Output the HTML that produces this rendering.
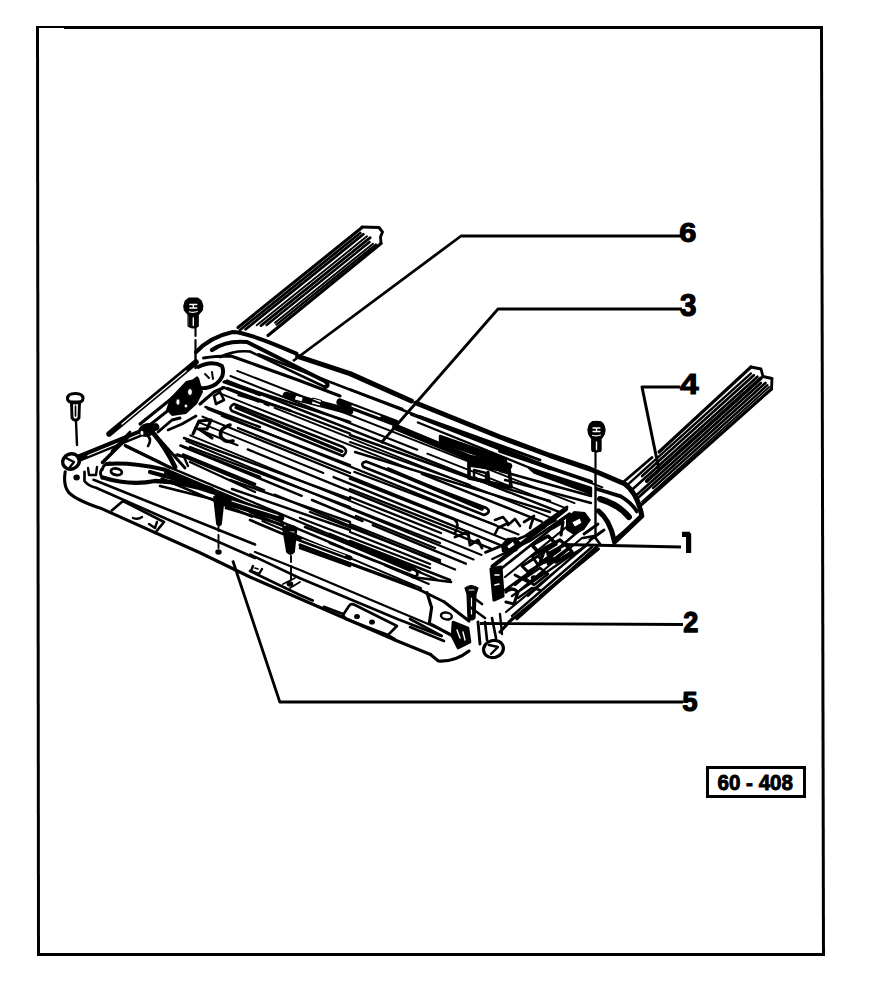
<!DOCTYPE html>
<html><head><meta charset="utf-8">
<style>
html,body{margin:0;padding:0;background:#fff;width:880px;height:1006px;overflow:hidden}
svg{display:block}
.t{font-family:"Liberation Sans",sans-serif;font-weight:bold;fill:#000;stroke:#000;stroke-width:1.1;stroke-linejoin:round}
</style></head><body>
<svg width="880" height="1006" viewBox="0 0 880 1006">
<rect x="0" y="0" width="880" height="1006" fill="#fff"/>
<!-- border -->
<g fill="#000">
<rect x="36" y="26" width="787" height="2"/>
<rect x="64" y="26" width="759" height="3"/>
<polygon points="36,26 39,26 40,956 37,956"/>
<polygon points="820,26 823,26 825,956 822,956"/>
<rect x="37" y="953" width="788" height="3"/>
</g>
<g fill="none" stroke="#000" stroke-linecap="round" stroke-linejoin="round">
<polyline points="238.0,327.5 362.0,227.5" stroke-width="3.12"/>
<polyline points="362.0,227.0 379.0,227.5 382.5,232.0 380.5,237.0 381.0,243.5" stroke-width="2.88"/>
<polyline points="240.0,330.0 360.3,233.0" stroke-width="2.76"/>
<polyline points="245.6,329.3 363.4,234.3" stroke-width="2.76"/>
<polyline points="256.7,325.3 367.0,236.3" stroke-width="1.92"/>
<polyline points="261.0,325.6 370.2,237.6" stroke-width="2.76"/>
<polyline points="266.6,325.0 369.6,242.0" stroke-width="2.40"/>
<polyline points="275.0,322.7 373.0,243.7" stroke-width="1.92"/>
<polyline points="276.6,324.6 375.8,244.6" stroke-width="2.40"/>
<polyline points="381.0,243.5 268.0,335.5" stroke-width="3.12"/>
<polyline points="624.0,481.5 652.0,457.5" stroke-width="2.88"/>
<polyline points="659.0,452.0 751.0,367.0" stroke-width="3.12"/>
<polyline points="751.0,367.0 761.0,369.0 763.0,376.5 772.0,378.5 771.5,389.0" stroke-width="2.88"/>
<polyline points="627.2,485.1 751.0,373.4" stroke-width="2.40"/>
<polyline points="642.1,476.0 753.8,375.2" stroke-width="2.64"/>
<polyline points="631.7,490.0 757.4,376.7" stroke-width="2.64"/>
<polyline points="646.7,481.2 761.0,378.1" stroke-width="3.60"/>
<polyline points="636.4,495.2 760.8,383.0" stroke-width="2.64"/>
<polyline points="638.4,497.5 765.4,383.0" stroke-width="2.64"/>
<polyline points="653.1,488.2 767.4,385.2" stroke-width="2.40"/>
<polyline points="642.1,501.6 769.1,387.1" stroke-width="1.92"/>
<polyline points="771.5,389.0 640.5,505.5" stroke-width="3.12"/>
<path d="M196,352 Q210,337 232.7,332 Q247,332 296.4,353.6" stroke-width="4.08"/>
<path d="M297.7,356.4 L350,373.6 L411.4,401 M416,403 L500,437 L550,455.5 L590,469 L625,484 Q638,494 641.8,516 L614.5,542" stroke-width="5.04"/>
<polyline points="598.6,549.0 512.3,619.3" stroke-width="2.88"/>
<path d="M512,619 L500,632 M469,651 Q455,662 438.4,661 L430.5,654.5" stroke-width="3.12"/>
<path d="M430.5,654.5 L395.5,640.2 L250,577 L200.5,553 L100.5,508.2 Q76,500 68.6,492.3 Q63,485 65.2,471.8" stroke-width="3.12"/>
<polyline points="195.5,327.0 195.5,336.0" stroke-width="2.16"/>
<polyline points="195.5,340.0 195.5,350.0" stroke-width="2.16"/>
<polyline points="195.5,353.0 195.5,368.0" stroke-width="2.40"/>
<path d="M212,350 Q226,340 247,342 L325.5,381.5 Q330,386 325,387" stroke-width="4.08"/>
<path d="M220,357 Q234,350 250,351.5 L325,387" stroke-width="2.64"/>
<path d="M203.6,358 Q215,356 231,356 L298,380 L340,396" stroke-width="3.12"/>
<polyline points="286.0,395.0 350.0,411.5" stroke-width="6.60"/>
<rect x="295" y="396" width="8" height="5" fill="#fff" transform="rotate(15 299 398)"/>
<rect x="312" y="399" width="9" height="6" fill="#fff" transform="rotate(15 316 402)"/>
<polyline points="225.0,381.4 350.0,422.0" stroke-width="2.64"/>
<polyline points="227.0,388.0 291.0,411.0" stroke-width="2.40"/>
<polyline points="238.6,395.0 286.0,409.0 350.0,433.6" stroke-width="2.40"/>
<path d="M234,404 L343,447 Q349,451 343,456 L232,411 Q228,407 234,404 Z" stroke-width="2.64"/>
<polyline points="236.0,407.5 342.0,451.5" stroke-width="3.12"/>
<polyline points="222.0,416.0 350.0,465.0" stroke-width="2.40"/>
<polyline points="238.0,428.0 350.0,473.0" stroke-width="2.40"/>
<polyline points="184.0,438.0 350.0,499.0" stroke-width="2.40"/>
<polyline points="190.0,447.0 350.0,507.0" stroke-width="2.40"/>
<path d="M193,434 L199,421 L211,420 L207,429 L199,429 L212,438" stroke-width="3.12"/>
<path d="M230,425 Q218,429 221,437 Q225,443 233,441" stroke-width="3.60"/>
<polyline points="350.0,389.5 402.3,409.0" stroke-width="2.64"/>
<polyline points="340.0,402.0 395.5,423.0" stroke-width="7.20"/>
<line x1="352" y1="406" x2="380" y2="416.5" stroke="#fff" stroke-width="1.4"/>
<polyline points="411.4,414.5 550.0,469.0" stroke-width="2.64"/>
<polyline points="418.0,422.5 550.0,476.0" stroke-width="2.40"/>
<polyline points="395.5,427.0 470.0,458.0 509.0,466.0" stroke-width="6.60"/>
<path d="M469,462 L509,468 L511,487 L469,478 Z" stroke-width="3.60"/>
<polyline points="469.0,465.0 509.0,471.0" stroke-width="3.60"/>
<path d="M474,470 L486,473 L486,480 Q480,481 474,477 Z" stroke-width="2.40"/>
<polyline points="488.0,472.0 489.0,484.0" stroke-width="3.12"/>
<polyline points="350.0,435.0 470.0,478.0 550.0,501.0" stroke-width="2.40"/>
<polyline points="350.0,442.0 470.0,485.0" stroke-width="2.16"/>
<polyline points="355.0,452.0 550.0,512.0" stroke-width="2.40"/>
<path d="M366,461.6 L486.4,508 Q492,512 484,515 L363.6,467 Q360,463 366,461.6 Z" stroke-width="2.64"/>
<polyline points="388.0,469.0 482.0,509.0" stroke-width="3.60"/>
<polyline points="354.5,472.0 495.5,525.0" stroke-width="2.40"/>
<path d="M350,478.6 L454.5,519.5 Q460,524 455,533" stroke-width="2.64"/>
<polyline points="350.0,489.0 468.0,535.0" stroke-width="2.40"/>
<polyline points="350.0,497.0 441.0,533.0" stroke-width="2.40"/>
<polyline points="350.0,508.0 440.0,543.0" stroke-width="2.40"/>
<polyline points="356.0,516.0 435.0,548.0" stroke-width="2.40"/>
<polyline points="350.0,524.0 440.0,560.0" stroke-width="2.40"/>
<polyline points="350.0,532.0 430.0,564.0" stroke-width="2.40"/>
<polyline points="350.0,541.0 450.0,580.0" stroke-width="2.64"/>
<path d="M495,520 L503,517 L508,523 L498,528 L495,534" stroke-width="2.64"/>
<path d="M508,525 L515,519 L520,526" stroke-width="2.64"/>
<path d="M524,522 L534,516 L530,528" stroke-width="2.64"/>
<path d="M455,537 L468,532 L470,545 L478,540 L482,548" stroke-width="2.88"/>
<path d="M84.5,471.8 L84.5,481 Q88,486 96,487.7 L255,558" stroke-width="2.64"/>
<polyline points="93.6,479.8 255.0,544.5" stroke-width="2.64"/>
<path d="M107,464 Q130,462 164,469.5 L255,508" stroke-width="4.08"/>
<path d="M102.7,477.5 Q130,486 155,481 Q185,482 212,492" stroke-width="4.32"/>
<polyline points="150.0,472.0 212.0,489.0" stroke-width="4.20"/>
<polyline points="160.0,486.0 212.0,499.0" stroke-width="2.64"/>
<path d="M102,470 Q104,463 110,463 M102,478 Q99,472 102,469" stroke-width="2.88"/>
<ellipse cx="116.4" cy="471.8" rx="5.5" ry="3.2" stroke-width="2.8" transform="rotate(10 116.4 471.8)"/>
<path d="M111.8,510.5 L123,501 L164,522 L155,533" stroke-width="2.64"/>
<path d="M133,518 Q138,520 142,517 M149,524 L155,528 L157,522" stroke-width="2.40"/>
<path d="M214,497 Q219,493 224,497 L221,524 Q219,527 217,524 Z" stroke-width="1.80" fill="#000"/>
<polyline points="218.5,527.0 218.5,531.0" stroke-width="1.92"/>
<polyline points="218.5,535.0 218.5,548.0" stroke-width="1.92"/>
<ellipse cx="218.5" cy="552" rx="2.5" ry="2" stroke-width="1.5" fill="#000" transform="rotate(0 218.5 552)"/>
<ellipse cx="71" cy="461.5" rx="8.5" ry="7.5" stroke-width="3.5" transform="rotate(-20 71 461.5)"/>
<polyline points="66.0,458.0 74.0,462.0 70.0,467.0" stroke-width="2.40"/>
<ellipse cx="76.6" cy="477.5" rx="2.5" ry="2.2" stroke-width="1.5" fill="#000" transform="rotate(0 76.6 477.5)"/>
<path d="M88,468 L89,475 L96,475 L97,467" stroke-width="2.40"/>
<path d="M67.5,398.5 Q67.5,393.5 75.3,393.5 Q83,393.5 83,398.5 Q83,402.5 75.3,403 Q67.5,402.5 67.5,398.5 Z" stroke-width="3.12"/>
<path d="M71.5,402 L79.5,402 L79,418 Q75.5,422.5 72,418 Z" stroke-width="2.88"/>
<polyline points="75.5,406.0 75.5,416.0" stroke-width="1.68"/>
<polyline points="76.0,421.0 77.0,445.0" stroke-width="2.40"/>
<polyline points="109.0,434.0 196.0,362.0" stroke-width="5.52"/>
<line x1="122" y1="424" x2="186" y2="371" stroke="#fff" stroke-width="1.3"/>
<polyline points="140.0,424.0 197.0,378.0" stroke-width="3.12"/>
<polyline points="146.0,428.0 175.0,405.0" stroke-width="2.88"/>
<polygon points="170.0,398.0 186.0,381.0 199.0,378.0 203.0,392.0 197.0,404.0 186.0,414.0 172.0,416.0 166.0,410.0" fill="#000" stroke="none"/>
<ellipse cx="178" cy="402" rx="2.2" ry="3.2" fill="#fff"/>
<ellipse cx="190" cy="392" rx="2.5" ry="3.5" fill="#fff"/>
<ellipse cx="186" cy="406" rx="2" ry="2" fill="#fff"/>
<path d="M198,367 Q212,360 222,366 Q226,376 216,384 Q208,389 200,388" stroke-width="3.84"/>
<path d="M205,374 L209,378 M212,372 L213,379" stroke-width="1.92"/>
<path d="M200,404 L214,392 L224,387.5" stroke-width="3.12"/>
<path d="M214,396 L220,392 L224,400 L216,404 Z" stroke-width="2.64"/>
<path d="M158,432 L172,420 L180,418" stroke-width="2.88"/>
<path d="M168,430 L182,424 L196,416" stroke-width="2.64"/>
<polyline points="80.5,457.5 155.5,427.0" stroke-width="7.80"/>
<line x1="88" y1="455.5" x2="145" y2="432" stroke="#fff" stroke-width="1.3"/>
<ellipse cx="147" cy="430" rx="8" ry="6" stroke-width="1.5" fill="#000" transform="rotate(-15 147 430)"/>
<ellipse cx="142" cy="433" rx="2.2" ry="2.6" fill="#fff"/>
<path d="M148,446 Q152,440 148,436" stroke-width="2.64"/>
<path d="M154,434 Q166,448 175,467" stroke-width="4.80"/>
<polyline points="126.0,446.0 170.0,467.5" stroke-width="3.12"/>
<polyline points="127.5,437.5 102.5,462.5" stroke-width="3.60"/>
<polyline points="160.0,440.0 185.0,468.0" stroke-width="2.88"/>
<path d="M176,455 L184,457 L188,466" stroke-width="2.40"/>
<polyline points="223.6,382.0 260.0,395.0" stroke-width="2.40"/>
<polyline points="205.5,407.0 260.0,427.0" stroke-width="2.40"/>
<polyline points="180.5,445.5 260.0,477.0" stroke-width="2.64"/>
<polyline points="183.0,454.5 255.0,484.0" stroke-width="2.64"/>
<polyline points="190.0,462.0 255.0,492.0" stroke-width="2.40"/>
<polyline points="312.7,600.5 300.0,595.0 250.0,571.0" stroke-width="2.64"/>
<path d="M323.9,606.8 L343,614" stroke-width="2.64"/>
<polyline points="250.0,554.5 300.0,578.2 398.6,619.5 440.0,635.5" stroke-width="2.64"/>
<polyline points="255.0,552.0 300.0,570.0 440.0,629.0" stroke-width="2.40"/>
<polyline points="300.0,544.8 420.0,590.0" stroke-width="2.88"/>
<path d="M427,592.7 L431.6,607.5 L429.3,623.4 L453,636" stroke-width="3.12"/>
<path d="M444,601.8 L469,621" stroke-width="3.12"/>
<path d="M420,590 L444,601.8" stroke-width="2.88"/>
<ellipse cx="446.4" cy="616" rx="5.5" ry="3.4" stroke-width="2.4" transform="rotate(10 446.4 616)"/>
<path d="M453,622 L468,628 L470,642 L458,648 L452,636 Z" stroke-width="2.64" fill="#000"/>
<path d="M457,630 L460,638 M463,632 L465,640" stroke="#fff" stroke-width="1.4"/>
<path d="M465,588 Q471,583 478,588 L476,594 L475,618 Q471.5,622 468,618 L467,594 Z" stroke-width="1.20" fill="#000"/>
<path d="M469,590 L474,590 M471.5,598 L471.5,614" stroke="#fff" stroke-width="1.2"/>
<polyline points="410.0,619.0 441.8,636.0" stroke-width="2.64"/>
<polyline points="410.0,627.0 444.0,641.0" stroke-width="2.64"/>
<polyline points="412.0,577.0 451.0,582.0" stroke-width="2.64"/>
<path d="M343,615 L349,606 Q351,603 355,605 L397,626 L388,635 L346,619 Z" stroke-width="2.64"/>
<ellipse cx="357" cy="616.5" rx="2.2" ry="1.8" stroke-width="1.5" fill="#000" transform="rotate(0 357 616.5)"/>
<ellipse cx="372" cy="622" rx="2.2" ry="1.8" stroke-width="1.5" fill="#000" transform="rotate(0 372 622)"/>
<polyline points="388.0,635.0 395.0,639.0" stroke-width="2.40"/>
<path d="M283,528 Q290,523 296.6,528 L294,552 Q290.5,556 287,552 Z" stroke-width="1.80" fill="#000"/>
<line x1="288" y1="532" x2="294" y2="532" stroke="#fff" stroke-width="1.2"/>
<polyline points="291.0,556.0 291.0,562.0" stroke-width="1.92"/>
<polyline points="291.0,566.0 291.0,580.0" stroke-width="1.92"/>
<ellipse cx="290" cy="584" rx="2.6" ry="2" stroke-width="1.5" fill="#000" transform="rotate(0 290 584)"/>
<polyline points="283.0,584.0 295.0,578.0" stroke-width="1.80"/>
<polyline points="290.0,588.0 300.0,582.0" stroke-width="1.80"/>
<polyline points="300.0,545.5 413.6,586.4" stroke-width="2.88"/>
<path d="M329.5,534 L413,568 Q420,572 416,577 L330,543" stroke-width="2.88"/>
<polyline points="340.0,540.0 410.0,570.0" stroke-width="3.60"/>
<polyline points="305.0,527.0 420.0,572.0" stroke-width="2.64"/>
<polyline points="300.0,518.0 430.0,568.0" stroke-width="2.40"/>
<polyline points="310.0,512.0 440.0,562.0" stroke-width="2.40"/>
<polyline points="250.0,512.0 283.0,526.0" stroke-width="2.64"/>
<polyline points="250.0,520.0 283.0,534.0" stroke-width="2.64"/>
<polyline points="298.0,537.0 325.0,548.0" stroke-width="2.40"/>
<path d="M588.5,431 Q588,421.5 596.5,421.5 Q605,421.5 604.5,431 Q604,439 596.5,440 Q589,439 588.5,431 Z" stroke-width="1.44" fill="#000"/>
<path d="M592,428 L601,428 M593,433 L600,433" stroke="#fff" stroke-width="1.4"/>
<path d="M592.5,440 L600.5,440 L600.5,451 L592.5,451 Z" stroke-width="1.80" fill="#000"/>
<polyline points="595.5,452.0 595.5,468.0" stroke-width="2.16"/>
<polyline points="595.5,471.0 595.5,538.0" stroke-width="2.40"/>
<path d="M500,451 L591,481.8 M597,489 L620.8,496.3 Q632,503 636.7,511.4" stroke-width="3.84"/>
<path d="M529,468 L591,488 L591,494 L535,473 Z" stroke-width="2.40" fill="#000"/>
<polyline points="500.0,471.0 591.0,496.0" stroke-width="2.64"/>
<polyline points="505.0,480.0 591.0,503.0" stroke-width="2.40"/>
<path d="M600,499 Q618,504 629,517" stroke-width="6.00"/>
<path d="M598.5,511 Q610,520 614,540" stroke-width="5.04"/>
<polyline points="640.0,518.0 613.0,540.0" stroke-width="2.16"/>
<polyline points="628.0,484.0 612.0,498.0" stroke-width="0.00"/>
<polyline points="567.0,507.0 525.5,536.0 485.5,552.3" stroke-width="2.88"/>
<polyline points="569.5,513.6 530.0,541.0 492.3,559.0" stroke-width="2.40"/>
<polyline points="596.8,547.0 517.0,618.6" stroke-width="3.36"/>
<polyline points="592.0,547.0 512.0,616.0" stroke-width="2.40"/>
<polyline points="586.0,546.0 506.0,612.0" stroke-width="2.16"/>
<polyline points="566.0,509.0 492.7,566.4" stroke-width="4.32"/>
<polyline points="570.0,514.0 500.7,569.0" stroke-width="2.64"/>
<polyline points="575.0,520.0 505.0,577.0" stroke-width="2.16"/>
<polyline points="580.0,530.0 515.0,585.0" stroke-width="2.40"/>
<polygon points="501.0,545.0 507.0,538.0 516.0,537.0 521.0,543.0 517.0,551.0 508.0,554.0 502.0,552.0" fill="#000" stroke="none"/>
<path d="M507,546 L513,541 L515,545 L509,549 Z" fill="#fff"/>
<path d="M545,548 L560,540 L569,548 L553,560 L540,563 Z" stroke-width="3.36"/>
<path d="M532,556 L545,548 L550,556 L538,565 Z" stroke-width="2.88"/>
<polygon points="566.0,518.0 574.0,511.0 585.0,512.0 591.0,520.0 584.0,530.0 574.0,535.0 566.0,530.0" fill="#000" stroke="none"/>
<path d="M572,522 L580,518 L582,523 L575,527 Z" fill="#fff"/>
<polyline points="584.0,534.0 598.0,524.0" stroke-width="2.88"/>
<polyline points="590.0,540.0 604.0,530.0" stroke-width="2.88"/>
<path d="M553,528 L563,522 L561,535" stroke-width="3.12"/>
<path d="M525,578 L540,568 L548,574 L534,585 Z" stroke-width="2.64"/>
<ellipse cx="534" cy="578" rx="2.5" ry="2" stroke-width="1.5" fill="#000" transform="rotate(0 534 578)"/>
<path d="M518,598 L532,588 L540,590" stroke-width="2.40"/>
<path d="M548,564 L570,556 L580,550" stroke-width="2.64"/>
<path d="M583,538 L594,536 L600,544" stroke-width="2.64"/>
<path d="M491,569 L501,567 L503,596 L494,600 Z" stroke-width="3.12" fill="#000"/>
<path d="M495,575 L499,575 M495,585 L499,584" stroke="#fff" stroke-width="1.6"/>
<path d="M506,592 Q512,586 518,592 L514,604 L506,602" stroke-width="3.12"/>
<polyline points="478.0,622.0 480.0,644.0" stroke-width="2.88"/>
<polyline points="485.0,622.0 487.0,640.0" stroke-width="2.64"/>
<polyline points="492.0,618.0 496.0,638.0" stroke-width="2.64"/>
<polyline points="500.0,614.0 502.0,634.0" stroke-width="2.40"/>
<ellipse cx="493.5" cy="649" rx="10" ry="8.5" stroke-width="3.2" transform="rotate(-15 493.5 649)"/>
<path d="M489,645 L498,647 L491,654" stroke-width="2.40"/>
<polyline points="470.0,607.0 485.0,618.0" stroke-width="2.64"/>
<polyline points="474.0,598.0 482.0,604.0" stroke-width="2.64"/>
<polyline points="258.5,354.3 560.4,471.1" stroke-width="2.52"/>
<polyline points="570.6,475.0 602.4,487.3" stroke-width="1.92"/>
<polyline points="237.2,370.8 574.5,503.1" stroke-width="1.92"/>
<polyline points="230.5,376.1 417.2,449.7" stroke-width="2.16"/>
<polyline points="427.3,453.7 565.6,508.2" stroke-width="1.92"/>
<polyline points="227.0,380.6 559.0,511.9" stroke-width="2.52"/>
<polyline points="222.5,387.2 258.5,401.5" stroke-width="2.52"/>
<polyline points="268.7,405.6 264.4,403.9" stroke-width="1.92"/>
<polyline points="274.6,407.9 549.5,517.1" stroke-width="1.92"/>
<polyline points="218.7,392.8 411.7,469.7" stroke-width="1.92"/>
<polyline points="421.9,473.8 541.7,521.6" stroke-width="2.52"/>
<polyline points="207.7,409.1 518.5,534.5" stroke-width="2.16"/>
<polyline points="202.6,416.7 507.8,540.4" stroke-width="2.16"/>
<polyline points="198.9,422.3 323.4,473.0" stroke-width="1.92"/>
<polyline points="333.6,477.1 499.9,544.8" stroke-width="2.40"/>
<polyline points="195.1,427.9 237.5,445.2" stroke-width="2.16"/>
<polyline points="247.7,449.4 492.0,549.2" stroke-width="2.40"/>
<polyline points="190.2,435.3 481.6,555.0" stroke-width="1.92"/>
<polyline points="186.3,441.1 473.5,559.5" stroke-width="2.16"/>
<polyline points="182.7,446.6 301.7,495.8" stroke-width="2.40"/>
<polyline points="312.0,500.0 362.5,521.0" stroke-width="2.52"/>
<polyline points="372.8,525.2 465.8,563.7" stroke-width="2.52"/>
<polyline points="177.6,454.2 264.2,490.2" stroke-width="2.16"/>
<polyline points="274.5,494.5 455.1,569.6" stroke-width="2.16"/>
<polyline points="169.1,467.1 437.0,579.5" stroke-width="2.40"/>
<polyline points="165.2,473.0 342.6,547.7" stroke-width="2.40"/>
<polyline points="352.9,552.0 374.8,561.2" stroke-width="1.92"/>
<polyline points="385.1,565.5 428.9,584.0" stroke-width="1.92"/>
<polyline points="161.6,478.5 213.6,500.4" stroke-width="2.52"/>
<polyline points="223.8,504.8 252.0,516.7" stroke-width="2.52"/>
<polyline points="262.3,521.0 421.2,588.1" stroke-width="1.92"/>
<path d="M189.025,298 L197.57500000000002,298 L201.3,301 L202.8,306 L202.3,310 L197.57500000000002,315.5 L189.025,315.5 L184.3,310 L183.8,306 L185.3,301 Z" stroke-width="1.20" fill="#000"/>
<path d="M189.8,304.5 L196.8,304.5 M189.8,308 L196.8,308 M193.3,304.5 L193.3,308" stroke="#fff" stroke-width="1.3"/>
<path d="M189.3,311.8 Q193.3,313 197.3,311.6" stroke="#fff" stroke-width="1.1"/>
<path d="M188.3,314.5 L198.3,314.5 L198.3,326.5 L194.8,328.0 L191.8,328.0 L188.3,326.5 Z" stroke-width="0.96" fill="#000"/>
<line x1="193.3" y1="318.0" x2="193.3" y2="325.5" stroke="#fff" stroke-width="1.4"/>
<path d="M592.675,421.5 L600.325,421.5 L603.5,424.5 L605.0,429.5 L604.5,433.5 L600.325,439.5 L592.675,439.5 L588.5,433.5 L588.0,429.5 L589.5,424.5 Z" stroke-width="1.20" fill="#000"/>
<path d="M593.0,428.0 L600.0,428.0 M593.0,431.5 L600.0,431.5 M596.5,428.0 L596.5,431.5" stroke="#fff" stroke-width="1.3"/>
<path d="M592.5,435.3 Q596.5,436.5 600.5,435.1" stroke="#fff" stroke-width="1.1"/>
<path d="M592.0,438.5 L601.0,438.5 L601.0,450.5 L598.0,452.0 L595.0,452.0 L592.0,450.5 Z" stroke-width="0.96" fill="#000"/>
<line x1="596.5" y1="442.0" x2="596.5" y2="449.5" stroke="#fff" stroke-width="1.4"/>
<polyline points="582.0,538.0 520.0,590.0" stroke-width="2.16"/>
<polyline points="590.0,541.0 528.0,596.0" stroke-width="2.16"/>
<polyline points="540.0,596.0 565.0,575.0" stroke-width="2.40"/>
<path d="M226,497 L281,514 Q286,518 281,521 L224,504 Q220,500 226,497 Z" stroke-width="1.80" fill="#000"/>
<line x1="232" y1="501" x2="278" y2="515.5" stroke="#fff" stroke-width="1.2"/>
<polyline points="226.0,508.0 283.0,525.0" stroke-width="2.64"/>
<polyline points="296.0,538.0 350.0,558.0" stroke-width="4.80"/>
<line x1="302" y1="539.5" x2="345" y2="555.5" stroke="#fff" stroke-width="1.1"/>
<polyline points="300.0,548.0 350.0,566.0" stroke-width="2.64"/>
<polyline points="232.0,489.0 350.0,530.0" stroke-width="2.40"/>
<polyline points="230.0,480.0 350.0,522.0" stroke-width="2.40"/>
<path d="M253,566 L251,571 L259,574 L262,569" stroke-width="2.40"/>
<path d="M255,568 L258,569" stroke-width="1.68"/>
<polyline points="125.0,445.5 160.0,462.5" stroke-width="2.88"/>
<polyline points="112.0,451.0 130.0,432.0" stroke-width="2.64"/>
<path d="M440,436 L506,459 L506,465 L440,442 Z" stroke-width="2.40" fill="#000"/>
<polyline points="420.0,416.5 540.0,460.0" stroke-width="2.88"/>
<path d="M532,545 L548,536 L556,544 L540,554 Z" stroke-width="3.60"/>
<path d="M548,554 L566,544 L572,552 L556,562 Z" stroke-width="3.60"/>
<path d="M522,566 L538,556 L544,562 L528,572 Z" stroke-width="3.12"/>
<polyline points="505.0,590.0 560.0,550.0" stroke-width="2.64"/>
<polyline points="512.0,596.0 570.0,556.0" stroke-width="2.40"/>
<path d="M515,575 L530,583 L545,572" stroke-width="2.88"/>
<polyline points="540.0,528.0 555.0,520.0" stroke-width="3.60"/>
<polyline points="528.0,536.0 545.0,527.0" stroke-width="2.64"/>
</g>
<!-- leaders -->
<g fill="none" stroke="#000" stroke-width="2.8" stroke-linecap="butt" stroke-linejoin="round">
<polyline points="293,361 461,236 682,236"/>
<polyline points="381,443 498,309 682,309"/>
<polyline points="659,470 642,387 680,387" stroke-width="3"/>
<polyline points="562,544.5 681,547" stroke-width="3.2"/>
<polyline points="480,623.5 683,624.5"/>
<polyline points="232.7,560.5 279.8,702 683,702"/>
</g>
<!-- digits -->
<text class="t" transform="translate(679.37,242.12) scale(1.106,1)" x="0" y="0" font-size="27.89" style="stroke-width:1.09">6</text>
<text class="t" transform="translate(680.01,316.09) scale(0.964,1)" x="0" y="0" font-size="30.70" style="stroke-width:1.24">3</text>
<text class="t" transform="translate(679.93,394.40) scale(1.114,1)" x="0" y="0" font-size="30.14" style="stroke-width:1.08">4</text>
<text class="t" transform="translate(683.29,632.40) scale(0.936,1)" x="0" y="0" font-size="29.00" style="stroke-width:1.28">2</text>
<text class="t" transform="translate(682.27,711.12) scale(0.976,1)" x="0" y="0" font-size="28.29" style="stroke-width:1.23">5</text>
<path d="M682,531.8 L689.5,531.8 L691.2,534 L691.2,553 L686,553 L686,537 L682,537 Z" fill="#000"/>
<!-- label box -->
<rect x="707.5" y="767.5" width="97" height="29" fill="none" stroke="#000" stroke-width="3"/>
<text class="t" x="717.5" y="790" font-size="21.5" textLength="75.5" lengthAdjust="spacingAndGlyphs" style="stroke-width:0.9">60 - 408</text>
</svg>
</body></html>
